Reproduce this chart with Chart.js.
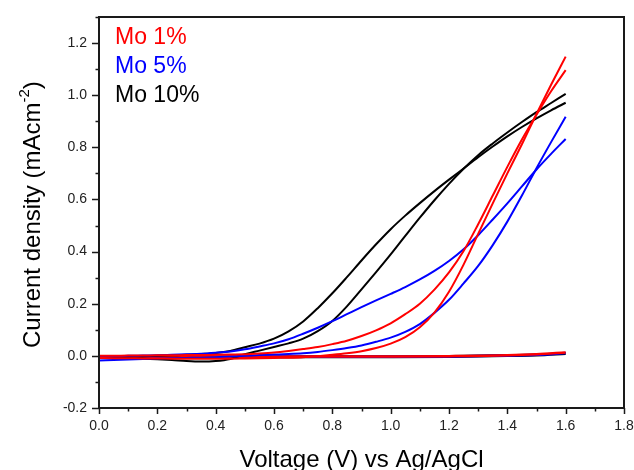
<!DOCTYPE html>
<html>
<head>
<meta charset="utf-8">
<title>Current density vs voltage</title>
<script src="https://cdn.jsdelivr.net/npm/chart.js@4.4.1/dist/chart.umd.min.js"></script>
<style>
  html, body { margin: 0; padding: 0; background: #fff; }
  #wrap { width: 634px; height: 470px; }
</style>
</head>
<body>
<div id="wrap"><canvas id="chart" width="634" height="470"></canvas></div>
<script>
// Values (V vs Ag/AgCl, mA cm^-2)
const voltage = [0.00, 0.05, 0.10, 0.15, 0.20, 0.25, 0.30, 0.35, 0.40, 0.45, 0.50, 0.55, 0.60, 0.65, 0.70, 0.75, 0.80,
                 0.85, 0.90, 0.95, 1.00, 1.05, 1.10, 1.15, 1.20, 1.25, 1.30, 1.35, 1.40, 1.45, 1.50, 1.55, 1.60];

const mo1Upper  = [0.000, 0.000, 0.001, 0.001, 0.002, 0.002, 0.003, 0.003, 0.004, 0.005, 0.006, 0.009, 0.013, 0.019, 0.026, 0.034, 0.045,
                   0.058, 0.076, 0.098, 0.125, 0.160, 0.200, 0.254, 0.320, 0.402, 0.505, 0.615, 0.725, 0.830, 0.925, 1.015, 1.096];
const mo1Lower  = [-0.008, -0.009, -0.009, -0.010, -0.010, -0.011, -0.011, -0.011, -0.011, -0.011, -0.010, -0.009, -0.008, -0.007, -0.005, -0.001, 0.004,
                   0.010, 0.018, 0.030, 0.047, 0.072, 0.110, 0.166, 0.246, 0.350, 0.468, 0.585, 0.700, 0.812, 0.928, 1.040, 1.148];

const mo5Upper  = [-0.003, -0.002, 0.000, 0.001, 0.002, 0.004, 0.006, 0.008, 0.012, 0.017, 0.025, 0.036, 0.048, 0.064, 0.085, 0.108, 0.133,
                   0.160, 0.187, 0.213, 0.238, 0.264, 0.293, 0.326, 0.364, 0.409, 0.463, 0.523, 0.585, 0.650, 0.715, 0.775, 0.832];
const mo5Lower  = [-0.018, -0.016, -0.014, -0.012, -0.010, -0.009, -0.008, -0.007, -0.005, -0.002, 0.000, 0.003, 0.005, 0.007, 0.010, 0.015, 0.022,
                   0.030, 0.040, 0.054, 0.070, 0.092, 0.122, 0.165, 0.215, 0.278, 0.345, 0.425, 0.515, 0.615, 0.720, 0.820, 0.917];

const mo10Upper = [-0.005, -0.004, -0.003, -0.002, 0.000, 0.002, 0.004, 0.007, 0.011, 0.019, 0.033, 0.047, 0.066, 0.094, 0.132, 0.183, 0.240,
                   0.302, 0.366, 0.428, 0.486, 0.538, 0.586, 0.632, 0.676, 0.719, 0.762, 0.803, 0.842, 0.878, 0.911, 0.942, 0.971];
const mo10Lower = [-0.008, -0.009, -0.010, -0.011, -0.013, -0.016, -0.020, -0.022, -0.020, -0.012, 0.006, 0.020, 0.034, 0.048, 0.066, 0.095, 0.134,
                   0.190, 0.255, 0.321, 0.389, 0.460, 0.530, 0.597, 0.660, 0.718, 0.770, 0.815, 0.857, 0.897, 0.935, 0.970, 1.005];

// dark scans, nearly flat
const darkVoltage = [0.0, 0.2, 0.4, 0.6, 0.8, 1.0, 1.2, 1.4, 1.5, 1.6];
const mo1Dark  = [-0.003, -0.003, -0.003, -0.003, -0.002, -0.002, -0.001, 0.002, 0.006, 0.013];
const mo5Dark  = [-0.004, -0.004, -0.004, -0.003, -0.003, -0.003, -0.002, 0.001, 0.004, 0.011];
const mo10Dark = [-0.004, -0.004, -0.004, -0.004, -0.003, -0.003, -0.002, 0.001, 0.003, 0.009];

const seriesNames  = ['Mo 1%', 'Mo 5%', 'Mo 10%'];
const seriesColors = ['#ff0000', '#0000ff', '#000000'];

const FONT = '"Liberation Sans", Arial, sans-serif';

function points(xs, ys) {
    return xs.map((x, i) => ({ x: x, y: ys[i] }));
}

function curve(xs, ys, color, width) {
    return {
        data: points(xs, ys),
        borderColor: color,
        borderWidth: width || 2,
        pointRadius: 0,
        showLine: true,
        cubicInterpolationMode: 'monotone',
        fill: false
    };
}

const datasets = [
    curve(voltage, mo1Upper, seriesColors[0]),
    curve(voltage, mo1Lower, seriesColors[0]),
    curve(voltage, mo5Upper, seriesColors[1]),
    curve(voltage, mo5Lower, seriesColors[1]),
    curve(voltage, mo10Upper, seriesColors[2]),
    curve(voltage, mo10Lower, seriesColors[2]),
    curve(darkVoltage, mo1Dark, seriesColors[0], 2.5),
    curve(darkVoltage, mo5Dark, seriesColors[1], 2.5),
    curve(darkVoltage, mo10Dark, seriesColors[2], 3)
];

const isMajor = v => Math.round(v * 10) % 2 === 0;

// frame, tick marks, axis titles and the text legend
const decorations = {
    id: 'decorations',
    afterDraw(chart) {
        const ctx = chart.ctx;
        const area = chart.chartArea;
        const xs = chart.scales.x;
        const ys = chart.scales.y;

        ctx.save();
        ctx.strokeStyle = '#1a1a1a';
        ctx.lineWidth = 1.5;
        ctx.beginPath();
        xs.ticks.forEach(t => {
            const px = Math.round(xs.getPixelForValue(t.value)) + 0.5;
            const len = isMajor(t.value) ? 6 : 3.5;
            ctx.moveTo(px, area.bottom);
            ctx.lineTo(px, area.bottom + len);
        });
        ys.ticks.forEach(t => {
            const py = Math.round(ys.getPixelForValue(t.value)) + 0.5;
            const len = isMajor(t.value) ? 7 : 3.5;
            ctx.moveTo(area.left, py);
            ctx.lineTo(area.left - len, py);
        });
        ctx.stroke();

        ctx.lineWidth = 2;
        ctx.strokeRect(area.left, area.top, area.right - area.left, area.bottom - area.top);

        // legend
        ctx.font = '23px ' + FONT;
        ctx.textAlign = 'left';
        ctx.textBaseline = 'alphabetic';
        seriesNames.forEach((name, i) => {
            ctx.fillStyle = seriesColors[i];
            ctx.fillText(name, area.left + 16, area.top + 27 + i * 29.2);
        });

        // x title
        ctx.fillStyle = '#000';
        ctx.font = '24px ' + FONT;
        ctx.textAlign = 'center';
        ctx.fillText('Voltage (V) vs Ag/AgCl', (area.left + area.right) / 2, 467);

        // y title with superscript
        ctx.translate(39.5, 348);
        ctx.rotate(-Math.PI / 2);
        ctx.textAlign = 'left';
        const main = 'Current density (mAcm';
        ctx.font = '24px ' + FONT;
        ctx.fillText(main, 0, 0);
        let w = ctx.measureText(main).width;
        ctx.font = '15px ' + FONT;
        ctx.fillText('-2', w, -11);
        w += ctx.measureText('-2').width;
        ctx.font = '24px ' + FONT;
        ctx.fillText(')', w, 0);
        ctx.restore();
    }
};

new Chart(document.getElementById('chart'), {
    type: 'scatter',
    data: { datasets: datasets },
    options: {
        responsive: false,
        animation: false,
        devicePixelRatio: 1,
        layout: { padding: { top: 17, right: 10, left: 0, bottom: 0 } },
        plugins: {
            legend: { display: false },
            tooltip: { enabled: false }
        },
        scales: {
            x: {
                type: 'linear',
                min: 0,
                max: 1.8,
                grid: { display: false, drawTicks: false },
                border: { display: false },
                ticks: {
                    stepSize: 0.1,
                    autoSkip: false,
                    maxRotation: 0,
                    padding: 10,
                    color: '#222',
                    font: { size: 14, family: FONT },
                    callback: v => isMajor(v) ? v.toFixed(1) : ''
                },
                afterFit: s => { s.height = 62; s.paddingLeft = 0; s.paddingRight = 0; }
            },
            y: {
                type: 'linear',
                min: -0.2,
                max: 1.3,
                grid: { display: false, drawTicks: false },
                border: { display: false },
                ticks: {
                    stepSize: 0.1,
                    autoSkip: false,
                    padding: 12,
                    color: '#222',
                    font: { size: 14, family: FONT },
                    callback: v => isMajor(v) ? v.toFixed(1) : ''
                },
                afterFit: s => { s.width = 99; s.paddingTop = 0; s.paddingBottom = 0; }
            }
        }
    },
    plugins: [decorations]
});
</script>
</body>
</html>
